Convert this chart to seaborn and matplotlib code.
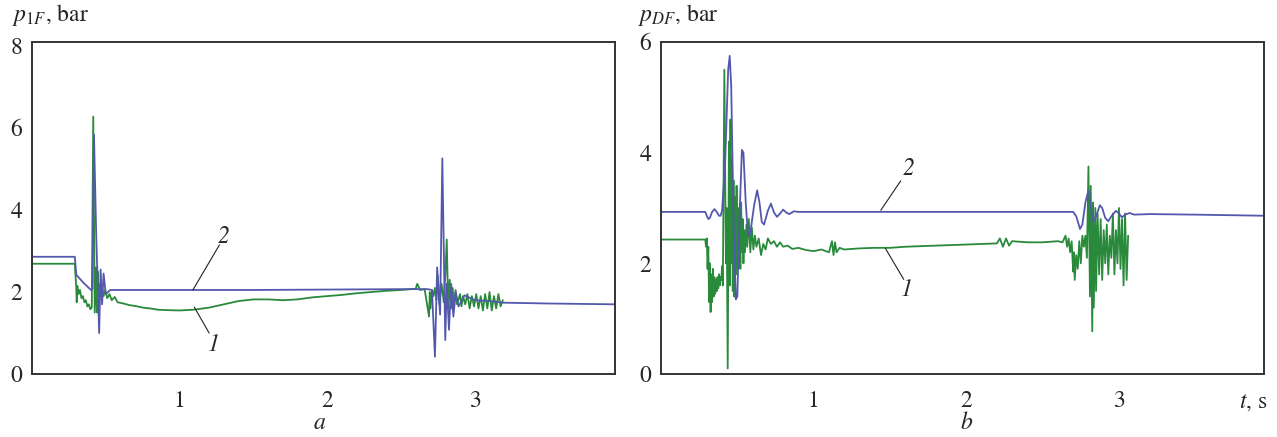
import matplotlib
matplotlib.use("Agg")
import matplotlib.pyplot as plt
import seaborn as sns

# panel a: p_1F, curve 2 (blue) and curve 1 (green)
ta2 = [0, 0.29, 0.30, 0.31, 0.35, 0.40, 0.41, 0.42, 0.435, 0.455,
       0.465, 0.475, 0.485, 0.50, 0.53, 1.0, 1.5, 2.0, 2.5, 2.68,
       2.71, 2.73, 2.745, 2.765, 2.78, 2.80, 2.81, 2.825, 2.84, 2.855,
       2.87, 2.89, 2.93, 3.0, 3.1, 3.19, 3.5, 3.95]
pa2 = [2.86, 2.86, 2.42, 2.38, 2.22, 2.05, 2.08, 5.84, 3.4, 1.0,
       2.55, 1.7, 2.45, 1.95, 2.05, 2.05, 2.05, 2.06, 2.07, 2.07,
       2.05, 0.42, 2.6, 1.45, 5.26, 0.83, 2.2, 1.08, 2.2, 1.4,
       2.0, 1.65, 1.92, 1.80, 1.78, 1.74, 1.72, 1.70]

ta1 = [0, 0.29, 0.30, 0.303, 0.307, 0.315, 0.325, 0.335, 0.345, 0.355,
       0.365, 0.375, 0.385, 0.395, 0.405, 0.415, 0.425, 0.435, 0.44, 0.445,
       0.45, 0.455, 0.465, 0.475, 0.485, 0.495, 0.51, 0.525, 0.54, 0.56,
       0.58, 0.62, 0.66, 0.70, 0.75, 0.80, 0.85, 0.9, 1.0, 1.1,
       1.2, 1.3, 1.4, 1.5, 1.6, 1.7, 1.8, 1.9, 2.0, 2.1,
       2.2, 2.3, 2.4, 2.5, 2.6, 2.61, 2.63, 2.66, 2.69, 2.695,
       2.70, 2.71, 2.72, 2.73, 2.74, 2.75, 2.76, 2.775, 2.79, 2.80,
       2.81, 2.82, 2.83, 2.84, 2.85, 2.86, 2.87, 2.88, 2.9, 2.91,
       2.92, 2.935, 2.95, 2.965, 2.98, 2.995, 3.01, 3.025, 3.04, 3.055,
       3.07, 3.085, 3.10, 3.115, 3.13, 3.145, 3.16, 3.175, 3.19]
pa1 = [2.69, 2.69, 2.1, 1.75, 2.15, 1.95, 2.05, 1.85, 1.9, 1.75,
       1.8, 1.65, 1.7, 1.58, 1.62, 6.28, 1.5, 2.6, 1.5, 2.5,
       1.7, 2.2, 1.9, 2.1, 1.9, 2.05, 1.85, 1.95, 1.8, 1.88,
       1.75, 1.72, 1.68, 1.66, 1.62, 1.6, 1.57, 1.56, 1.55, 1.57,
       1.62, 1.7, 1.78, 1.82, 1.82, 1.8, 1.82, 1.87, 1.9, 1.93,
       1.97, 2.0, 2.03, 2.05, 2.08, 2.2, 2.05, 2.07, 1.4, 2.0,
       1.6, 2.05, 1.9, 2.1, 1.8, 2.4, 1.7, 2.2, 1.75, 2.4,
       3.28, 1.6, 2.3, 1.6, 2.1, 1.65, 2.05, 1.7, 1.95, 1.65,
       1.9, 1.7, 1.95, 1.6, 1.9, 1.65, 1.95, 1.6, 1.9, 1.55,
       1.95, 1.6, 2.0, 1.55, 1.9, 1.6, 1.95, 1.65, 1.8]

# panel b: p_DF
tb2 = [0, 0.29, 0.30, 0.31, 0.32, 0.335, 0.35, 0.365, 0.38, 0.39,
       0.40, 0.42, 0.44, 0.45, 0.46, 0.475, 0.49, 0.50, 0.515, 0.53,
       0.54, 0.555, 0.57, 0.585, 0.61, 0.63, 0.645, 0.66, 0.675, 0.70,
       0.72, 0.74, 0.76, 0.78, 0.80, 0.82, 0.84, 0.87, 0.90, 1.0,
       2.0, 2.70, 2.72, 2.745, 2.76, 2.78, 2.80, 2.815, 2.835, 2.85,
       2.875, 2.89, 2.91, 2.93, 2.95, 2.98, 3.00, 3.02, 3.04, 3.07,
       3.10, 3.2, 3.5, 3.95]
pb2 = [2.93, 2.93, 2.86, 2.80, 2.82, 2.93, 2.98, 2.93, 2.86, 2.86,
       2.95, 3.8, 5.5, 5.75, 5.2, 2.8, 1.35, 1.4, 2.9, 4.05,
       4.0, 3.1, 2.5, 2.55, 3.05, 3.32, 3.1, 2.75, 2.7, 2.95,
       3.08, 2.92, 2.84, 2.9, 2.97, 2.92, 2.89, 2.94, 2.93, 2.93,
       2.93, 2.93, 2.85, 2.62, 2.7, 3.1, 3.32, 3.0, 2.75, 2.85,
       3.05, 3.0, 2.82, 2.76, 2.85, 2.95, 2.9, 2.83, 2.88, 2.91,
       2.88, 2.89, 2.88, 2.86]

tb1 = [0, 0.29, 0.295, 0.30, 0.305, 0.31, 0.315, 0.32, 0.325, 0.33,
       0.335, 0.34, 0.345, 0.35, 0.355, 0.36, 0.365, 0.37, 0.375, 0.38,
       0.385, 0.39, 0.395, 0.40, 0.405, 0.415, 0.425, 0.43, 0.437, 0.445,
       0.45, 0.455, 0.46, 0.465, 0.47, 0.475, 0.48, 0.485, 0.49, 0.495,
       0.50, 0.505, 0.51, 0.515, 0.52, 0.525, 0.53, 0.535, 0.54, 0.545,
       0.55, 0.56, 0.565, 0.575, 0.585, 0.595, 0.605, 0.615, 0.625, 0.64,
       0.655, 0.67, 0.685, 0.70, 0.72, 0.74, 0.76, 0.78, 0.80, 0.83,
       0.86, 0.9, 0.95, 1.0, 1.05, 1.1, 1.12, 1.13, 1.14, 1.15,
       1.17, 1.2, 1.3, 1.4, 1.5, 1.6, 1.7, 1.8, 1.9, 2.0,
       2.1, 2.2, 2.22, 2.24, 2.26, 2.28, 2.3, 2.4, 2.5, 2.6,
       2.63, 2.65, 2.66, 2.67, 2.68, 2.69, 2.70, 2.705, 2.71, 2.72,
       2.73, 2.74, 2.75, 2.76, 2.77, 2.78, 2.79, 2.80, 2.81, 2.815,
       2.825, 2.83, 2.835, 2.845, 2.85, 2.86, 2.87, 2.88, 2.89, 2.90,
       2.91, 2.92, 2.93, 2.94, 2.95, 2.96, 2.97, 2.98, 2.99, 3.0,
       3.01, 3.02, 3.03, 3.04, 3.05, 3.06]
pb1 = [2.43, 2.43, 2.3, 2.45, 1.9, 2.3, 1.3, 2.0, 1.12, 1.8,
       1.3, 1.9, 1.4, 1.75, 1.45, 1.7, 1.5, 1.75, 1.55, 1.8,
       1.6, 1.75, 1.7, 1.95, 1.6, 5.5, 2.0, 3.0, 0.1, 4.2,
       1.6, 4.6, 2.0, 3.9, 1.5, 3.5, 1.4, 3.2, 1.8, 3.4,
       1.9, 3.0, 2.0, 2.8, 1.9, 3.1, 2.2, 2.8, 2.0, 2.6,
       2.2, 2.7, 2.3, 2.8, 2.2, 2.65, 2.25, 2.5, 2.3, 2.45,
       2.15, 2.35, 2.25, 2.45, 2.35, 2.4, 2.3, 2.38, 2.3, 2.32,
       2.26, 2.28, 2.24, 2.22, 2.25, 2.2, 2.4, 2.15, 2.38, 2.2,
       2.28, 2.25, 2.27, 2.28, 2.28, 2.3, 2.31, 2.32, 2.33, 2.34,
       2.35, 2.36, 2.45, 2.3, 2.45, 2.32, 2.4, 2.38, 2.38, 2.4,
       2.38, 2.5, 2.3, 2.45, 2.2, 2.4, 1.85, 2.2, 1.7, 2.15,
       1.9, 2.4, 2.0, 2.5, 2.3, 2.5, 2.1, 3.75, 1.4, 3.4,
       0.77, 3.1, 1.2, 3.0, 1.5, 2.9, 1.8, 2.8, 1.7, 2.6,
       2.0, 2.7, 1.8, 2.5, 2.1, 2.9, 1.8, 2.6, 2.0, 3.0,
       1.9, 2.8, 1.6, 2.9, 1.7, 2.5]

blue = "#5358ad"
green = "#2a8a3c"

sns.set_style("white")
plt.rcParams['font.family'] = ['STIXGeneral', 'DejaVu Serif']
plt.rcParams['mathtext.fontset'] = 'stix'

fig = plt.figure(figsize=(12.77, 4.37), dpi=100)
ax_a = fig.add_axes([32 / 1277, 1 - 374 / 437, 583 / 1277, 332 / 437])
ax_b = fig.add_axes([661 / 1277, 1 - 374 / 437, 603 / 1277, 332 / 437])

for ax, t2, p2, t1, p1 in [(ax_a, ta2, pa2, ta1, pa1), (ax_b, tb2, pb2, tb1, pb1)]:
    sns.lineplot(x=t1, y=p1, ax=ax, color=green, lw=1.3, estimator=None, sort=False)
    sns.lineplot(x=t2, y=p2, ax=ax, color=blue, lw=1.3, estimator=None, sort=False)
    ax.set_xlim(0, 3.95)
    ax.set_xticks([1, 2, 3])
    ax.tick_params(axis='x', direction='in', length=8, width=1, pad=12,
                   labelsize=17, color='#333333')
    ax.tick_params(axis='y', direction='in', length=8, width=1, pad=7,
                   labelsize=17, color='#333333')
    for s in ax.spines.values():
        s.set_color('#333333')
        s.set_linewidth(1.4)
    ax.set_xlabel('')
    ax.set_ylabel('')

ax_a.set_ylim(0, 8.1)
ax_a.set_yticks([0, 2, 4, 6, 8])
ax_b.set_ylim(0, 6.0)
ax_b.set_yticks([0, 2, 4, 6])

# axis titles
ax_a.text(-0.034, 1.08, r'$p_{\mathit{1F}}$, bar', transform=ax_a.transAxes,
          fontsize=17, ha='left', va='center')
ax_b.text(-0.038, 1.08, r'$p_{\mathit{DF}}$, bar', transform=ax_b.transAxes,
          fontsize=17, ha='left', va='center')
ax_b.text(1.006, -0.085, r'$t$, s', transform=ax_b.transAxes,
          fontsize=17, ha='right', va='center')
ax_a.text(0.494, -0.148, 'a', transform=ax_a.transAxes, fontsize=17,
          style='italic', ha='center', va='center')
ax_b.text(0.507, -0.148, 'b', transform=ax_b.transAxes, fontsize=17,
          style='italic', ha='center', va='center')

# curve numbers with leader lines
ax_a.plot([1.27, 1.09], [3.15, 2.05], color='#222222', lw=0.8)
ax_a.text(1.30, 3.34, '2', fontsize=17, style='italic', ha='center', va='center')
ax_a.plot([1.20, 1.10], [1.0, 1.63], color='#222222', lw=0.8)
ax_a.text(1.23, 0.71, '1', fontsize=17, style='italic', ha='center', va='center')
ax_b.plot([1.57, 1.44], [3.49, 2.96], color='#222222', lw=0.8)
ax_b.text(1.62, 3.71, '2', fontsize=17, style='italic', ha='center', va='center')
ax_b.plot([1.59, 1.47], [1.71, 2.27], color='#222222', lw=0.8)
ax_b.text(1.61, 1.53, '1', fontsize=17, style='italic', ha='center', va='center')

fig.savefig("out.png", dpi=100)
